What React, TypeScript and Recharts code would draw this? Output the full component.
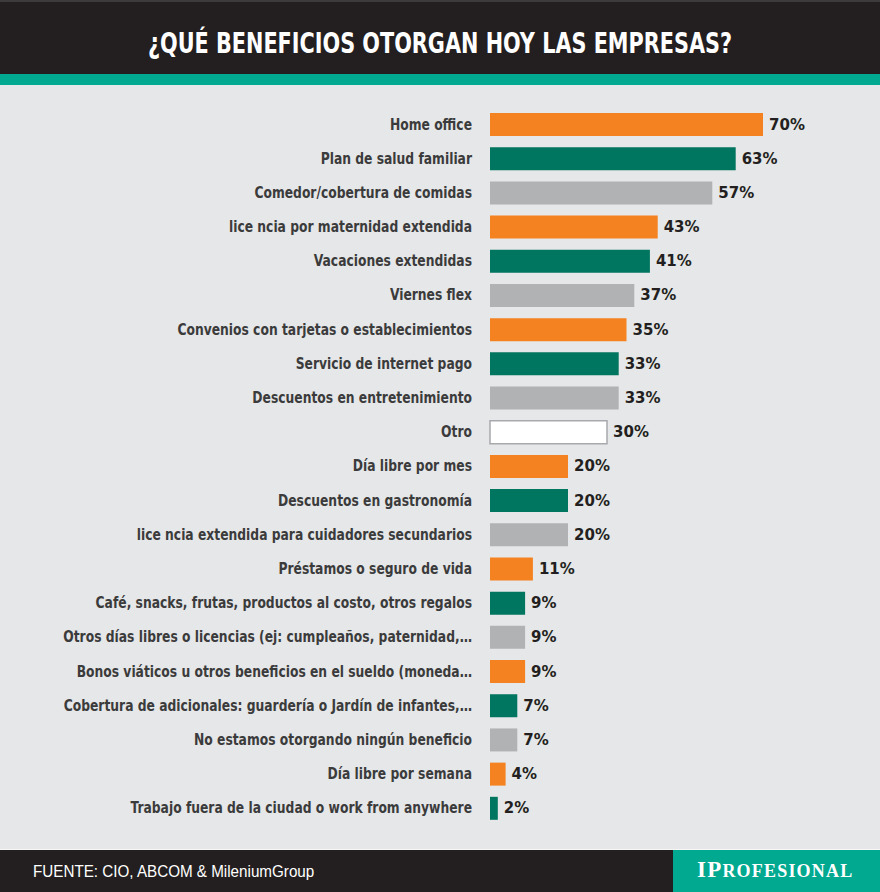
import React from 'react';
import { BarChart, Bar, XAxis, YAxis, Cell, LabelList } from 'recharts';

const categories = [
  'Home office',
  'Plan de salud familiar',
  'Comedor/cobertura de comidas',
  'lice ncia por maternidad extendida',
  'Vacaciones extendidas',
  'Viernes flex',
  'Convenios con tarjetas o establecimientos',
  'Servicio de internet pago',
  'Descuentos en entretenimiento',
  'Otro',
  'Día libre por mes',
  'Descuentos en gastronomía',
  'lice ncia extendida para cuidadores secundarios',
  'Préstamos o seguro de vida',
  'Café, snacks, frutas, productos al costo, otros regalos',
  'Otros días libres o licencias (ej: cumpleaños, paternidad,…',
  'Bonos viáticos u otros beneficios en el sueldo (moneda…',
  'Cobertura de adicionales: guardería o Jardín de infantes,…',
  'No estamos otorgando ningún beneficio',
  'Día libre por semana',
  'Trabajo fuera de la ciudad o work from anywhere',
];

const values = [70, 63, 57, 43, 41, 37, 35, 33, 33, 30, 20, 20, 20, 11, 9, 9, 9, 7, 7, 4, 2];

const colorKeys = [
  'orange', 'teal', 'gray', 'orange', 'teal', 'gray', 'orange', 'teal', 'gray', 'white',
  'orange', 'teal', 'gray', 'orange', 'teal', 'gray', 'orange', 'teal', 'gray', 'orange', 'teal',
];

const palette: Record<string, string> = {
  orange: '#f58220',
  teal: '#00755f',
  gray: '#b1b2b4',
  white: '#ffffff',
};

const data = categories.map((name, i) => ({ name, value: values[i], color: colorKeys[i] }));

const condensed = '"DejaVu Sans Condensed", "DejaVu Sans", sans-serif';

// no narrow font installed, so squeeze the condensed one a bit
const CategoryTick = ({ y, payload }: any) => (
  <text
    transform={`translate(472, ${y}) scale(0.83, 1)`}
    x={0}
    y={0}
    textAnchor="end"
    dominantBaseline="central"
    fill="#3b3b3c"
    fontFamily={condensed}
    fontWeight={700}
    fontSize={16.5}
  >
    {payload.value}
  </text>
);

const ValueLabel = (props: any) => {
  const { x, y, width, height, value } = props;
  return (
    <text
      x={x + width + 6}
      y={y + height / 2}
      dominantBaseline="central"
      fill="#231f20"
      fontFamily='"DejaVu Sans", sans-serif'
      fontWeight={700}
      fontSize={15}
    >
      {value}%
    </text>
  );
};

export default function App() {
  return (
    <div
      style={{
        position: 'absolute',
        left: 0,
        top: 0,
        width: 880,
        height: 892,
        background: '#e6e7e8',
        overflow: 'hidden',
      }}
    >
      <div style={{ position: 'absolute', left: 0, top: 0, width: 880, height: 74, background: '#231f20', borderTop: '2px solid #3d3b3c', boxSizing: 'border-box' }} />
      <div style={{ position: 'absolute', left: 0, top: 74, width: 880, height: 11, background: '#00a98f' }} />
      <div
        style={{
          position: 'absolute',
          left: 0,
          top: 24,
          width: 880,
          textAlign: 'center',
          color: '#ffffff',
          fontFamily: condensed,
          fontWeight: 700,
          fontSize: 28,
          lineHeight: '40px',
          transform: 'scaleX(0.825)',
          transformOrigin: '440px 0',
        }}
      >
        ¿QUÉ BENEFICIOS OTORGAN HOY LAS EMPRESAS?
      </div>

      <div style={{ position: 'absolute', left: 0, top: 0 }}>
        <BarChart
          width={880}
          height={892}
          data={data}
          layout="vertical"
          margin={{ top: 107, right: 0, bottom: 67, left: 0 }}
          barCategoryGap={6}
        >
          <XAxis type="number" domain={[0, 100]} hide />
          <YAxis
            type="category"
            dataKey="name"
            width={490}
            axisLine={false}
            tickLine={false}
            interval={0}
            tick={<CategoryTick />}
          />
          <Bar dataKey="value" barSize={23} isAnimationActive={false}>
            {data.map((d, i) => (
              <Cell
                key={i}
                fill={palette[d.color]}
                stroke={d.color === 'white' ? '#a7a9ac' : 'none'}
                strokeWidth={d.color === 'white' ? 1.5 : 0}
              />
            ))}
            <LabelList dataKey="value" content={<ValueLabel />} />
          </Bar>
        </BarChart>
      </div>

      <div style={{ position: 'absolute', left: 0, top: 849, width: 880, height: 43, background: '#231f20', borderTop: '1px solid #f7f7f7', boxSizing: 'border-box' }} />
      <div style={{ position: 'absolute', left: 673, top: 850, width: 207, height: 42, background: '#00a98f' }} />
      <div
        style={{
          position: 'absolute',
          left: 33,
          top: 862,
          color: '#ffffff',
          fontFamily: '"Liberation Sans", Arial, sans-serif',
          fontSize: 16,
          lineHeight: '20px',
          whiteSpace: 'nowrap',
          transform: 'scaleX(0.95)',
          transformOrigin: '0 0',
        }}
      >
        FUENTE: CIO, ABCOM &amp; MileniumGroup
      </div>
      <div
        style={{
          position: 'absolute',
          left: 697,
          top: 856,
          color: '#ffffff',
          fontFamily: '"Liberation Serif", "DejaVu Serif", serif',
          fontWeight: 700,
          lineHeight: '28px',
          whiteSpace: 'nowrap',
          letterSpacing: 1.2,
        }}
      >
        <span style={{ fontSize: 23 }}>IP</span>
        <span style={{ fontSize: 18 }}>ROFESIONAL</span>
      </div>
    </div>
  );
}
